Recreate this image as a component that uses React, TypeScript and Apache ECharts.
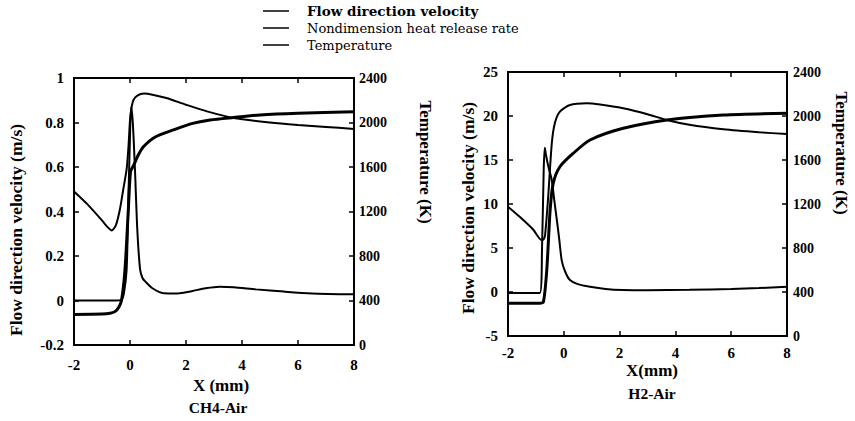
import React, { useEffect, useRef } from "react";
import * as echarts from "echarts";

// ---------- CH4-Air panel ----------
const ch4VelX = [-2, -1.5, -1.0, -0.8, -0.65, -0.5, -0.36, -0.24, -0.12, -0.05, 0, 0.06, 0.12, 0.25, 0.5, 0.8, 1.3, 2.0, 2.75, 3.7, 5.0, 6.0, 7.0, 8.0];
const ch4VelY = [0.49, 0.43, 0.36, 0.33, 0.315, 0.34, 0.41, 0.5, 0.59, 0.7, 0.81, 0.87, 0.9, 0.92, 0.93, 0.925, 0.91, 0.88, 0.85, 0.82, 0.8, 0.789, 0.78, 0.771];

const ch4HrrX = [-2, -0.5, -0.3, -0.22, -0.12, -0.06, 0, 0.04, 0.1, 0.18, 0.26, 0.36, 0.45, 0.55, 0.8, 1.2, 1.7, 2.2, 2.7, 3.2, 3.7, 4.5, 5.5, 6.5, 8];
const ch4HrrY = [0, 0, 0.005, 0.03, 0.14, 0.44, 0.74, 0.87, 0.8, 0.58, 0.32, 0.14, 0.1, 0.085, 0.055, 0.033, 0.032, 0.042, 0.055, 0.062, 0.06, 0.05, 0.04, 0.032, 0.028];

const ch4TempX = [-2, -1.0, -0.71, -0.54, -0.4, -0.3, -0.18, -0.06, 0.02, 0.12, 0.3, 0.48, 0.9, 1.55, 2.2, 2.86, 3.7, 4.64, 6.0, 8.0];
const ch4TempY = [275, 278, 285, 300, 340, 404, 674, 1213, 1560, 1610, 1710, 1782, 1870, 1933, 1990, 2023, 2045, 2067, 2083, 2097];

// ---------- H2-Air panel ----------
const h2VelX = [-2, -1.6, -1.1, -0.8, -0.72, -0.67, -0.56, -0.43, -0.32, -0.14, 0.22, 0.82, 1.3, 2.13, 3.0, 3.69, 4.5, 5.72, 7.0, 8.0];
const h2VelY = [9.7, 8.6, 7.1, 5.9, 6.0, 6.5, 10.8, 16.9, 19.2, 20.5, 21.25, 21.44, 21.3, 20.87, 20.2, 19.55, 19.0, 18.49, 18.15, 17.95];

const h2HrrX = [-2, -0.86, -0.78, -0.72, -0.68, -0.64, -0.55, -0.43, -0.34, -0.25, -0.16, -0.075, 0.05, 0.22, 0.5, 0.94, 1.5, 2.13, 3.0, 4.5, 6.0, 7.0, 8.0];
const h2HrrY = [-0.1, -0.1, 5, 14, 16.4, 15.6, 14.2, 12.7, 10.4, 8.2, 5.9, 3.6, 2.3, 1.36, 0.9, 0.6, 0.35, 0.23, 0.2, 0.25, 0.35, 0.45, 0.6];

const h2TempX = [-2, -0.85, -0.73, -0.61, -0.49, -0.38, -0.14, 0.34, 0.94, 2.13, 3.69, 5.72, 8.0];
const h2TempY = [297, 297, 310, 600, 1145, 1388, 1539, 1661, 1782, 1888, 1964, 2009, 2025];

// ---------- axis ranges ----------
const ch4VelRange = [-0.2, 1, 0.2];
const h2VelRange = [-5, 25, 5];
const tempRange = [0, 2400, 400];
const xRange = [-2, 8, 2];

// ---------- labels ----------
const legendNames = ["Flow direction velocity", "Nondimension heat release rate", "Temperature"];
const leftYName = "Flow direction velocity (m/s)";
const rightYName = "Temperature (K)";
const xNameCH4 = "X (mm)";
const xNameH2 = "X(mm)";
const panelTitles = ["CH4-Air", "H2-Air"];

const FONT = "'Liberation Serif', 'DejaVu Serif', serif";
const WIDE_FONT = "'DejaVu Serif', 'Liberation Serif', serif";
const INK = "#000";

const GRIDS = [
  { left: 74, top: 78, width: 280, height: 267 },
  { left: 508, top: 72, width: 279, height: 264 },
];

const pairs = (xs: number[], ys: number[]) => xs.map((x, i) => [x, ys[i]]);

const labelStyle = (margin: number, size: number) => ({
  color: INK,
  fontFamily: FONT,
  fontWeight: "bold",
  fontSize: size,
  margin,
  formatter: (v: number) => String(Math.round(v * 1000) / 1000),
});

function xAx(gridIndex: number, position: "top" | "bottom", margin: number) {
  return {
    type: "value",
    gridIndex,
    position,
    min: xRange[0],
    max: xRange[1],
    interval: xRange[2],
    axisLine: { show: true, onZero: false, lineStyle: { color: INK, width: 2 } },
    axisTick: { show: true, inside: true, length: 5, lineStyle: { color: INK, width: 1.5 } },
    splitLine: { show: false },
    axisLabel: position === "bottom" ? labelStyle(margin, 15) : { show: false },
  };
}

function yAx(gridIndex: number, position: "left" | "right", r: number[], margin: number, size: number) {
  return {
    type: "value",
    gridIndex,
    position,
    min: r[0],
    max: r[1],
    interval: r[2],
    axisLine: { show: true, onZero: false, lineStyle: { color: INK, width: 2 } },
    axisTick: { show: true, inside: true, length: 5, lineStyle: { color: INK, width: 1.5 } },
    splitLine: { show: false },
    axisLabel: labelStyle(margin, size),
  };
}

function line(name: string, xi: number, yi: number, data: number[][], width: number, topValue?: number) {
  const s: any = {
    type: "line",
    name,
    xAxisIndex: xi,
    yAxisIndex: yi,
    data,
    showSymbol: false,
    smooth: 0.25,
    silent: true,
    lineStyle: { color: INK, width },
  };
  if (topValue !== undefined) {
    // top edge of the plot frame, drawn at the axis maximum
    s.markLine = {
      silent: true,
      symbol: ["none", "none"],
      label: { show: false },
      lineStyle: { color: INK, width: 2, type: "solid" },
      data: [{ yAxis: topValue }],
    };
  }
  return s;
}

function txt(text: string, x: number, y: number, size: number, rotation = 0, weight = "bold") {
  return {
    type: "text",
    x,
    y,
    rotation,
    style: {
      text,
      fill: INK,
      fontFamily: FONT,
      fontWeight: weight,
      fontSize: size,
      align: "center",
      verticalAlign: "middle",
    },
  };
}

export default function App() {
  const ref = useRef<HTMLDivElement>(null);

  useEffect(() => {
    if (!ref.current) return;
    const chart = echarts.init(ref.current, undefined, { renderer: "svg" });

    const legendRows = [11, 28, 45];
    const legendGraphics: any[] = [];
    legendNames.forEach((n, i) => {
      legendGraphics.push({
        type: "line",
        shape: { x1: 263, y1: legendRows[i], x2: 289, y2: legendRows[i] },
        style: { stroke: INK, lineWidth: 1.5 },
      });
      legendGraphics.push({
        type: "text",
        x: 307,
        y: legendRows[i],
        style: {
          text: n,
          fill: INK,
          fontFamily: WIDE_FONT,
          fontWeight: i === 0 ? "bold" : "normal",
          fontSize: i === 0 ? 13.5 : 13,
          align: "left",
          verticalAlign: "middle",
        },
      });
    });

    const topEdges = GRIDS.map((g) => ({
      type: "polyline",
      z: 50,
      shape: { points: [[g.left - 1, g.top], [g.left + g.width + 1, g.top]] },
      style: { stroke: INK, lineWidth: 2, fill: "none" },
    }));

    chart.setOption({
      animation: false,
      backgroundColor: "#fff",
      grid: GRIDS.map((g) => ({ ...g, show: true, borderColor: INK, borderWidth: 2 })),
      xAxis: [xAx(0, "bottom", 12), xAx(0, "top", 0), xAx(1, "bottom", 9), xAx(1, "top", 0)],
      yAxis: [
        yAx(0, "left", ch4VelRange, 10, 15),
        yAx(0, "right", tempRange, 5, 14),
        yAx(1, "left", h2VelRange, 10, 15),
        yAx(1, "right", tempRange, 6, 14),
      ],
      series: [
        line(legendNames[0], 0, 0, pairs(ch4VelX, ch4VelY), 2, ch4VelRange[1]),
        line(legendNames[1], 0, 0, pairs(ch4HrrX, ch4HrrY), 2),
        line(legendNames[2], 0, 1, pairs(ch4TempX, ch4TempY), 3),
        line(legendNames[0], 2, 2, pairs(h2VelX, h2VelY), 2, h2VelRange[1]),
        line(legendNames[1], 2, 2, pairs(h2HrrX, h2HrrY), 2),
        line(legendNames[2], 2, 3, pairs(h2TempX, h2TempY), 3),
      ],
      graphic: [
        ...topEdges,
        ...legendGraphics,
        txt(leftYName, 16, 230, 17.5, Math.PI / 2),
        txt(leftYName, 468, 208, 17.5, Math.PI / 2),
        txt(rightYName, 425, 162, 17, -Math.PI / 2),
        txt(rightYName, 841, 153, 17, -Math.PI / 2),
        txt(xNameCH4, 221, 385, 17),
        txt(panelTitles[0], 218, 407, 15.5),
        txt(xNameH2, 652, 370, 17),
        txt(panelTitles[1], 652, 393, 15.5),
      ],
    });

    return () => chart.dispose();
  }, []);

  return (
    <div
      ref={ref}
      style={{ position: "absolute", left: 0, top: 0, width: 855, height: 421 }}
    />
  );
}
